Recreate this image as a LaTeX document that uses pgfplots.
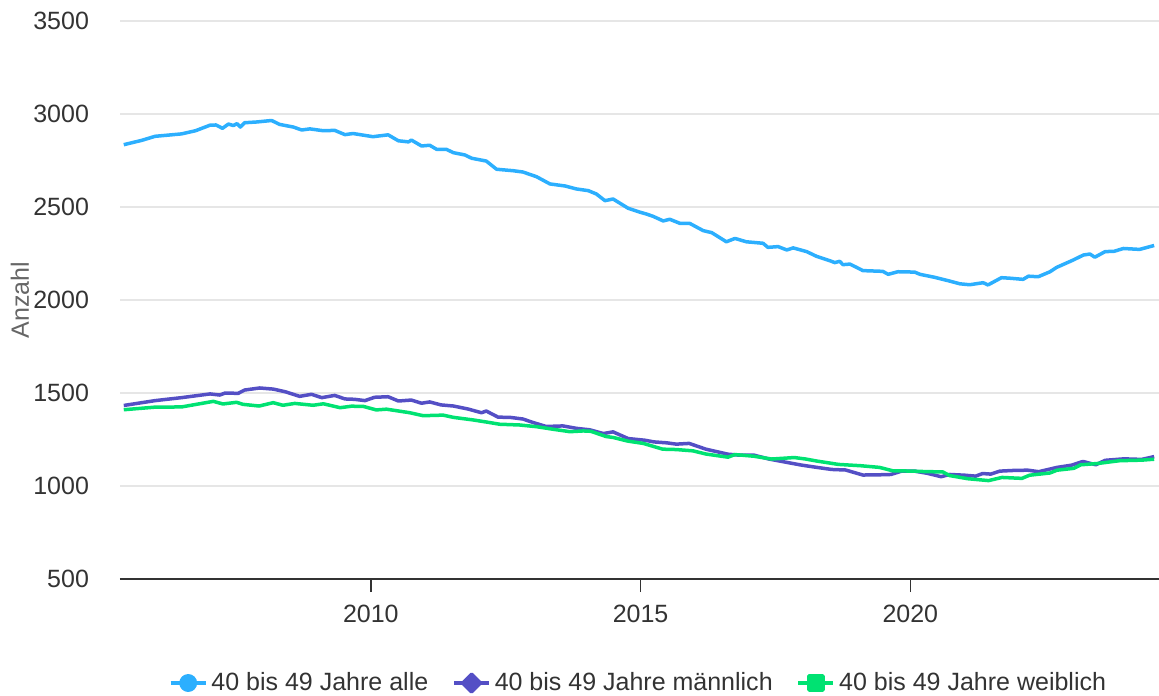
\documentclass[border=0pt]{standalone}
\usepackage{fontspec}
\setmainfont{Liberation Sans}
\usepackage{pgfplots}
\pgfplotsset{compat=1.18}
\definecolor{hcblue}{HTML}{2CAFFE}
\definecolor{hcpurple}{HTML}{544FC5}
\definecolor{hcgreen}{HTML}{00E272}
\definecolor{gridgray}{HTML}{E6E6E6}
\definecolor{textgray}{HTML}{333333}
\definecolor{titlegray}{HTML}{666666}

\newcommand{\chartfont}{\fontsize{12.5}{15}\selectfont}

\begin{document}
\begin{tikzpicture}
\begin{axis}[
  at={(0,0)}, anchor=south west,
  scale only axis, width=519.5pt, height=279pt,
  xmin=2005.35, xmax=2024.61,
  ymin=500, ymax=3500,
  xtick={2010,2015,2020},
  ytick={500,1000,...,3500},
  /pgf/number format/1000 sep={},
  /pgf/number format/assume math mode=true,
  axis x line*=bottom, axis y line*=left,
  x axis line style={draw=textgray, line width=0.7pt, -},
  y axis line style={draw=none},
  ymajorgrids, grid style={draw=gridgray, line width=0.7pt},
  tick align=outside,
  xtick style={draw=textgray, line width=0.7pt},
  major tick length=6.5pt,
  ytick style={draw=none},
  tick label style={font=\chartfont, text=textgray},
  yticklabel style={xshift=-5.5pt},
  xticklabel style={yshift=-3pt},
  ylabel={Anzahl},
  ylabel style={at={(axis description cs:-0.0962,0.5)}, anchor=center, font=\chartfont, text=titlegray},
  legend style={at={(axis description cs:0.5,-0.1864)}, anchor=center, draw=none, fill=none,
    legend columns=3, font=\chartfont, text=textgray,
    /tikz/every even column/.append style={column sep=10pt}},
  every axis plot/.append style={line width=1.75pt, line join=round},
]
\addplot[color=hcblue,
  legend image code/.code={\draw[hcblue, line width=1.75pt] (0pt,0pt) -- (17.5pt,0pt);
    \fill[hcblue] (8.75pt,0pt) circle (3.6pt);}] coordinates {
(2005.42,2835) (2005.75,2858) (2006.00,2880) (2006.49,2893) (2006.75,2910)
(2007.02,2940) (2007.13,2941) (2007.25,2923) (2007.36,2946) (2007.45,2938)
(2007.52,2948) (2007.58,2930) (2007.66,2953) (2007.88,2957) (2008.16,2965)
(2008.31,2944) (2008.56,2930) (2008.72,2914) (2008.87,2920) (2009.12,2910)
(2009.33,2912) (2009.52,2889) (2009.67,2895) (2010.04,2878) (2010.32,2888)
(2010.51,2856) (2010.70,2850) (2010.75,2860) (2010.94,2828) (2011.09,2832)
(2011.22,2810) (2011.40,2810) (2011.53,2792) (2011.74,2780) (2011.87,2762)
(2012.14,2747) (2012.33,2703) (2012.64,2695) (2012.82,2688) (2013.07,2663)
(2013.32,2624) (2013.60,2613) (2013.81,2597) (2014.03,2588) (2014.18,2570)
(2014.34,2534) (2014.49,2543) (2014.77,2493) (2014.99,2472) (2015.11,2462)
(2015.23,2450) (2015.42,2425) (2015.54,2434) (2015.73,2412) (2015.91,2412)
(2016.16,2373) (2016.32,2362) (2016.59,2313) (2016.75,2331) (2016.96,2313)
(2017.27,2305) (2017.36,2283) (2017.55,2287) (2017.71,2269) (2017.83,2280)
(2018.08,2260) (2018.26,2235) (2018.51,2211) (2018.60,2201) (2018.69,2208)
(2018.75,2190) (2018.88,2193) (2019.00,2176) (2019.12,2158) (2019.49,2154)
(2019.59,2138) (2019.77,2152) (2020.08,2150) (2020.18,2138) (2020.45,2122)
(2020.70,2104) (2020.92,2087) (2021.10,2082) (2021.35,2093) (2021.44,2081)
(2021.69,2120) (2021.85,2117) (2022.09,2111) (2022.19,2128) (2022.37,2125)
(2022.59,2152) (2022.71,2175) (2023.02,2215) (2023.21,2242) (2023.33,2247)
(2023.42,2230) (2023.61,2260) (2023.78,2262) (2023.95,2277) (2024.25,2272)
(2024.52,2293)
};
\addlegendentry{40 bis 49 Jahre alle}
\addplot[color=hcpurple,
  legend image code/.code={\draw[hcpurple, line width=1.75pt] (0pt,0pt) -- (17.5pt,0pt);
    \fill[hcpurple] (8.75pt,4.4pt) -- (13.15pt,0pt) -- (8.75pt,-4.4pt) -- (4.35pt,0pt) -- cycle;}] coordinates {
(2005.42,1433) (2006.00,1459) (2006.49,1475) (2007.02,1495) (2007.20,1489)
(2007.30,1500) (2007.54,1498) (2007.66,1516) (2007.94,1527) (2008.19,1521)
(2008.41,1507) (2008.68,1482) (2008.90,1493) (2009.09,1475) (2009.33,1487)
(2009.52,1468) (2009.70,1466) (2009.89,1459) (2010.07,1477) (2010.32,1480)
(2010.51,1457) (2010.75,1462) (2010.94,1445) (2011.09,1452) (2011.30,1436)
(2011.53,1430) (2011.80,1414) (2012.05,1394) (2012.14,1403) (2012.36,1370)
(2012.58,1369) (2012.82,1360) (2013.00,1342) (2013.25,1320) (2013.56,1323)
(2013.81,1310) (2014.06,1302) (2014.31,1282) (2014.49,1291) (2014.77,1255)
(2015.08,1246) (2015.25,1237) (2015.49,1232) (2015.66,1225) (2015.90,1229)
(2016.21,1198) (2016.62,1171) (2016.82,1166) (2017.10,1166) (2017.38,1145)
(2017.71,1127) (2017.99,1112) (2018.27,1100) (2018.54,1089) (2018.80,1086)
(2019.12,1059) (2019.40,1060) (2019.64,1062) (2019.84,1080) (2020.08,1080)
(2020.32,1068) (2020.57,1050) (2020.73,1062) (2021.01,1058) (2021.21,1053)
(2021.34,1067) (2021.49,1064) (2021.66,1080) (2021.94,1084) (2022.18,1085)
(2022.38,1077) (2022.72,1100) (2022.99,1112) (2023.20,1132) (2023.44,1114)
(2023.61,1138) (2023.96,1146) (2024.29,1143) (2024.52,1158)
};
\addlegendentry{40 bis 49 Jahre männlich}
\addplot[color=hcgreen,
  legend image code/.code={\draw[hcgreen, line width=1.75pt] (0pt,0pt) -- (17.5pt,0pt);
    \fill[hcgreen] (5.25pt,-3.5pt) rectangle (12.25pt,3.5pt);}] coordinates {
(2005.42,1410) (2006.00,1424) (2006.49,1425) (2007.08,1455) (2007.26,1441)
(2007.51,1450) (2007.63,1439) (2007.93,1430) (2008.19,1448) (2008.37,1434)
(2008.59,1444) (2008.93,1434) (2009.12,1442) (2009.43,1421) (2009.64,1429)
(2009.86,1428) (2010.10,1409) (2010.29,1413) (2010.72,1394) (2010.97,1378)
(2011.34,1381) (2011.53,1369) (2011.90,1355) (2012.14,1344) (2012.39,1332)
(2012.76,1328) (2013.07,1319) (2013.38,1305) (2013.69,1292) (2013.94,1296)
(2014.08,1294) (2014.36,1266) (2014.49,1261) (2014.77,1241) (2015.05,1229)
(2015.41,1198) (2015.66,1196) (2015.97,1189) (2016.21,1172) (2016.62,1155)
(2016.75,1169) (2017.10,1160) (2017.43,1145) (2017.85,1153) (2018.06,1145)
(2018.27,1134) (2018.67,1116) (2019.08,1109) (2019.43,1100) (2019.67,1082)
(2020.05,1080) (2020.32,1077) (2020.60,1076) (2020.73,1056) (2021.07,1039)
(2021.45,1029) (2021.70,1046) (2022.07,1041) (2022.21,1058) (2022.59,1070)
(2022.72,1085) (2023.03,1095) (2023.16,1114) (2023.47,1121) (2023.88,1136)
(2024.29,1139) (2024.52,1144)
};
\addlegendentry{40 bis 49 Jahre weiblich}
\end{axis}
\pgfresetboundingbox
\path (-60pt,-58pt) rectangle (519.5pt,289.5pt);
\end{tikzpicture}
\end{document}
